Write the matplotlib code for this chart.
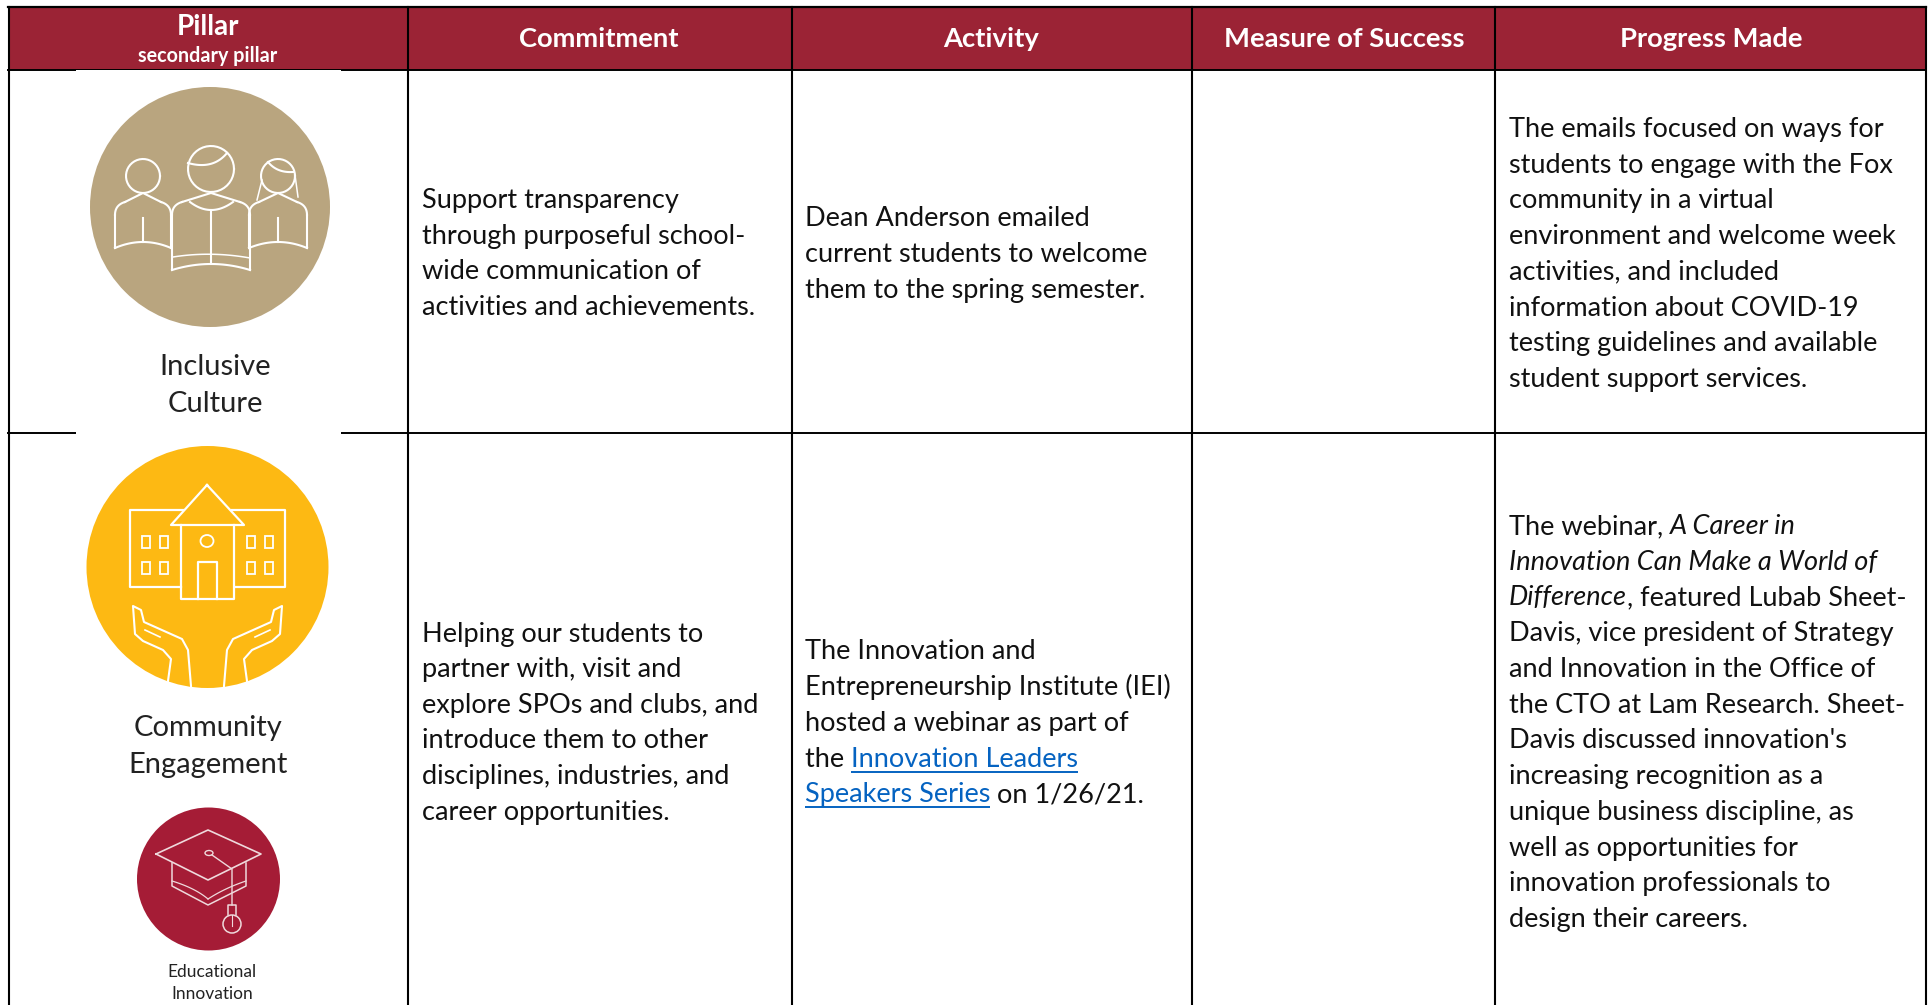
import numpy as np
import matplotlib
matplotlib.use('Agg')
import matplotlib.pyplot as plt
from matplotlib.patches import Circle, Rectangle, Ellipse

W, H = 1933, 1005
FONT = 'Lato'
RED = '#9B2335'
TAN = '#B9A57F'
YELLOW = '#FDB913'
MAROON = '#A51C36'
LINK = '#0563C1'

headers = ['Commitment', 'Activity', 'Measure of Success', 'Progress Made']
header_centers = [599, 991, 1344, 1711]
col_edges = [9, 408, 792, 1192, 1495, 1926]

commit1 = ['Support transparency', 'through purposeful school-', 'wide communication of', 'activities and achievements.']
commit1_y = [208, 244, 279, 315]
activity1 = ['Dean Anderson emailed', 'current students to welcome', 'them to the spring semester.']
activity1_y = [226, 262, 298]
progress1 = ['The emails focused on ways for', 'students to engage with the Fox', 'community in a virtual',
             'environment and welcome week', 'activities, and included', 'information about COVID-19',
             'testing guidelines and available', 'student support services.']
progress1_y = [137, 173, 208, 244, 279, 316, 351, 387]

commit2 = ['Helping our students to', 'partner with, visit and', 'explore SPOs and clubs, and',
           'introduce them to other', 'disciplines, industries, and', 'career opportunities.']
commit2_y = [642, 677, 713, 748, 784, 820]

# each line is a list of (text, style) runs
activity2 = [[('The Innovation and', 'n')],
             [('Entrepreneurship Institute (IEI)', 'n')],
             [('hosted a webinar as part of', 'n')],
             [('the ', 'n'), ('Innovation Leaders', 'l')],
             [('Speakers Series', 'l'), (' on 1/26/21.', 'n')]]
activity2_y = [659, 695, 731, 767, 802]
progress2 = [[('The webinar, ', 'n'), ('A Career in', 'i')],
             [('Innovation Can Make a World of', 'i')],
             [('Difference', 'i'), (', featured Lubab Sheet-', 'n')],
             [('Davis, vice president of Strategy', 'n')],
             [('and Innovation in the Office of', 'n')],
             [('the CTO at Lam Research. Sheet-', 'n')],
             [("Davis discussed innovation's", 'n')],
             [('increasing recognition as a', 'n')],
             [('unique business discipline, as', 'n')],
             [('well as opportunities for', 'n')],
             [('innovation professionals to', 'n')],
             [('design their careers.', 'n')]]
progress2_y = [534, 570, 605, 641, 677, 713, 748, 784, 820, 856, 891, 927]

fig = plt.figure(figsize=(W / 100, H / 100), dpi=100)
ax = fig.add_axes([0, 0, 1, 1])
ax.set_xlim(0, W)
ax.set_ylim(H, 0)
ax.axis('off')
renderer = fig.canvas.get_renderer()

BODY = 19.5


def write(x, y, s, size=BODY, color='#111111', style='normal', weight='normal', ha='left'):
    return ax.text(x, y, s, fontsize=size, color=color, style=style, weight=weight,
                   family=FONT, ha=ha, va='baseline')


def block(x, ys, lines):
    for y, line in zip(ys, lines):
        write(x, y, line)


def runs(x, ys, lines):
    for y, line in zip(ys, lines):
        cx = x
        for s, kind in line:
            # trailing spaces are not measured, so use no-break ones
            t = write(cx, y, s.replace(' ', '\u00a0'), color=LINK if kind == 'l' else '#111111',
                      style='italic' if kind == 'i' else 'normal')
            w = t.get_window_extent(renderer).width
            if kind == 'l':
                ax.plot([cx, cx + w], [y + 5, y + 5], color=LINK, lw=1.4, solid_capstyle='butt')
            cx += w


# grid
ax.add_patch(Rectangle((8, 7), W - 14, 63, color=RED, lw=0))
ax.plot([8, 1926], [7, 7], color='black', lw=1.6)
for x in col_edges:
    ax.plot([x, x], [7, H], color='black', lw=1.5)
for y in [70, 433]:
    ax.plot([8, 1926], [y, y], color='black', lw=1.4)
ax.add_patch(Rectangle((76, 69.5), 265, 4, color='white', lw=0, zorder=3))
ax.add_patch(Rectangle((76, 430), 265, 6, color='white', lw=0, zorder=3))

# header
write(208, 35, 'Pillar', size=20, color='white', weight='bold', ha='center')
write(208, 62, 'secondary pillar', size=14.2, color='white', weight='bold', ha='center')
for c, s in zip(header_centers, headers):
    write(c, 47, s, size=19.7, color='white', weight='bold', ha='center')

block(422, commit1_y, commit1)
block(805, activity1_y, activity1)
block(1509, progress1_y, progress1)
block(422, commit2_y, commit2)
runs(805, activity2_y, activity2)
runs(1509, progress2_y, progress2)

# pillar labels
LABEL = '#222222'
write(215, 375, 'Inclusive', size=21, color=LABEL, ha='center')
write(215, 412, 'Culture', size=21, color=LABEL, ha='center')
write(208, 736, 'Community', size=21, color=LABEL, ha='center')
write(208, 773, 'Engagement', size=21, color=LABEL, ha='center')
write(212, 977, 'Educational', size=12.5, color=LABEL, ha='center')
write(212, 999, 'Innovation', size=12.5, color=LABEL, ha='center')


def line(pts, lw=1.5, color='white', z=6):
    p = np.array(pts, dtype=float)
    ax.plot(p[:, 0], p[:, 1], color=color, lw=lw, zorder=z, solid_joinstyle='round')


def arc(cx, cy, rx, ry, a0, a1, lw=1.5, color='white'):
    t = np.radians(np.linspace(a0, a1, 40))
    line(np.c_[cx + rx * np.cos(t), cy + ry * np.sin(t)], lw=lw, color=color)


def curve(p0, p1, p2, lw=1.5, color='white'):
    t = np.linspace(0, 1, 30)[:, None]
    p0, p1, p2 = map(np.array, (p0, p1, p2))
    line((1 - t) ** 2 * p0 + 2 * t * (1 - t) * p1 + t ** 2 * p2, lw=lw, color=color)


# people icon
ax.add_patch(Circle((210, 207), 120, color=TAN, lw=0, zorder=5))


def person(cx, head_y, r, top, sh, bottom, hw, cw):
    arc(cx, head_y, r, r, 0, 360)
    curve((cx - hw, bottom), (cx, bottom - 12), (cx + hw, bottom))
    line([(cx - hw, bottom), (cx - hw, top + 22)])
    line([(cx + hw, bottom), (cx + hw, top + 22)])
    curve((cx - hw, top + 22), (cx - hw, top + 12), (cx - hw + 10, top + 9))
    curve((cx + hw, top + 22), (cx + hw, top + 12), (cx + hw - 10, top + 9))
    line([(cx - hw + 10, top + 9), (cx, top), (cx + hw - 10, top + 9)])
    line([(cx, sh), (cx, cw)])


person(143, 176, 17, 193, 218, 248, 28, 242)
person(211, 169, 23, 193, 210, 270, 39, 263)
person(278, 176, 17, 193, 218, 248, 29, 242)
curve((188, 163), (213, 170), (227, 153))
curve((268, 162), (277, 173), (293, 172))
curve((173, 257), (211, 251), (250, 258), lw=1.1)
curve((190, 202), (211, 218), (233, 202))
line([(257, 200), (262, 180)], lw=1.1)
line([(298, 197), (295, 175)], lw=1.1)

# school icon
ax.add_patch(Circle((207.5, 567), 121, color=YELLOW, lw=0, zorder=5))
line([(183, 510), (130, 510), (130, 587), (181, 587)], lw=1.6)
line([(232, 510), (285, 510), (285, 587), (235, 587)], lw=1.6)
line([(207, 485), (171, 525), (244, 525), (207, 485)], lw=1.6)
line([(181, 525), (181, 599), (234, 599), (234, 525)], lw=1.6)
line([(198, 599), (198, 562), (217, 562), (217, 599)], lw=1.6)
ax.add_patch(Ellipse((207, 541), 13, 12, fill=False, ec='white', lw=1.3, zorder=6))
for wx in [142, 160, 247, 265]:
    for wy in [536, 562]:
        ax.add_patch(Rectangle((wx, wy), 8, 12, fill=False, ec='white', lw=1.3, zorder=6))
hand_x = [168, 171, 163, 143, 135, 133, 141, 144, 182, 188, 191]
hand_y = [681, 659, 650, 641, 634, 606, 610, 622, 639, 650, 686]
for s in [0, 1]:
    hx = np.array(hand_x, dtype=float)
    if s:
        hx = 415 - hx
    line(np.c_[hx, hand_y], lw=1.5)
    tx = np.array([145.0, 160.0])
    if s:
        tx = 415 - tx
    line(np.c_[tx, [630, 637]], lw=1.2)

# cap icon
ax.add_patch(Circle((208.5, 879), 71.5, color=MAROON, lw=0, zorder=5))
c2 = '#EFD9DC'
line([(156, 854), (208, 830), (261, 854), (208, 880), (156, 854)], lw=1.2, color=c2)
line([(172, 863), (172, 886), (208, 905), (246, 886), (246, 863)], lw=1.1, color=c2)
curve((172, 881), (195, 888), (208, 899), lw=0.9, color=c2)
curve((208, 899), (225, 888), (246, 881), lw=0.9, color=c2)
ax.add_patch(Ellipse((209, 853), 8, 5, fill=False, ec=c2, lw=1, zorder=6))
line([(212, 855), (232, 869), (232, 905)], lw=1, color=c2)
ax.add_patch(Circle((232, 924), 9, fill=False, ec=c2, lw=1.1, zorder=6))
line([(228, 915), (228, 905), (236, 905), (236, 915)], lw=1.1, color=c2)
line([(232, 915), (232, 926)], lw=0.8, color=c2)

fig.savefig('out.png', dpi=100)
